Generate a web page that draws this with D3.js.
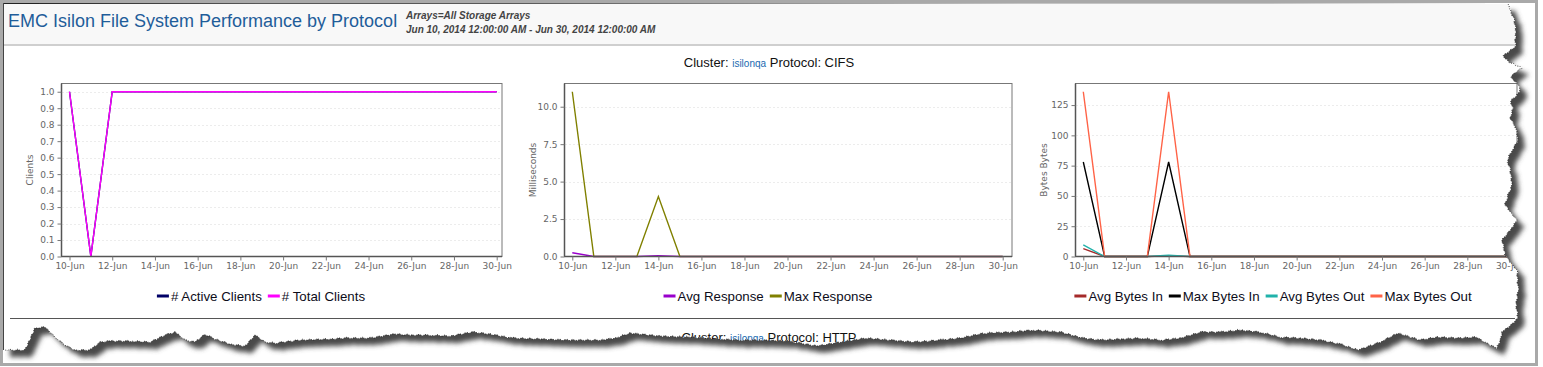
<!DOCTYPE html>
<html><head><meta charset="utf-8">
<script src="https://cdn.jsdelivr.net/npm/d3@7"></script>
<style>
html,body{margin:0;padding:0;background:#fff;}
svg{display:block;}
</style></head>
<body>
<svg id="c" width="1543" height="367"></svg>
<script>
// ---------------- DATA ----------------
const dates = ["2014-06-10","2014-06-11","2014-06-12","2014-06-13","2014-06-14","2014-06-15","2014-06-16",
  "2014-06-17","2014-06-18","2014-06-19","2014-06-20","2014-06-21","2014-06-22","2014-06-23","2014-06-24",
  "2014-06-25","2014-06-26","2014-06-27","2014-06-28","2014-06-29","2014-06-30"];
const xTickLabels = ["10-Jun","12-Jun","14-Jun","16-Jun","18-Jun","20-Jun","22-Jun","24-Jun","26-Jun","28-Jun","30-Jun"];

const activeClients = [1,0,1,1,1,1,1,1,1,1,1,1,1,1,1,1,1,1,1,1,1];
const totalClients  = [1,0,1,1,1,1,1,1,1,1,1,1,1,1,1,1,1,1,1,1,1];

const avgResponse = [0.25,0,0,0,0.05,0,0,0,0,0,0,0,0,0,0,0,0,0,0,0,0];
const maxResponse = [11,0,0,0,4,0,0,0,0,0,0,0,0,0,0,0,0,0,0,0,0];

const avgBytesIn  = [6.5,0,0,0,0.5,0,0,0,0,0,0,0,0,0,0,0,0,0,0,0,0];
const maxBytesIn  = [78,0,0,0,78,0,0,0,0,0,0,0,0,0,0,0,0,0,0,0,0];
const avgBytesOut = [9.5,0,0,0,1,0,0,0,0,0,0,0,0,0,0,0,0,0,0,0,0];
const maxBytesOut = [136,0,0,0,136,0,0,0,0,0,0,0,0,0,0,0,0,0,0,0,0];

const clientTicks = [0,0.1,0.2,0.3,0.4,0.5,0.6,0.7,0.8,0.9,1.0];
const msTicks = [0,2.5,5,7.5,10];
const bytesTicks = [0,25,50,75,100,125];

// ---------------- LAYOUT ----------------
const W = 1543, H = 367;
const svg = d3.select("#c");
const parse = d3.timeParse("%Y-%m-%d");
const dayDates = dates.map(parse);
const tickDates = ["2014-06-10","2014-06-12","2014-06-14","2014-06-16","2014-06-18","2014-06-20",
  "2014-06-22","2014-06-24","2014-06-26","2014-06-28","2014-06-30"].map(parse);

// torn paper edge (decoration)
const rightEdge = [[1508,4],[1510,10],[1514,20],[1516,32],[1515,40],[1516,46],[1503,56],[1509,62],[1522,68],
 [1514,73],[1511,78],[1518,84],[1520,90],[1516,96],[1510,101],[1513,108],[1510,118],[1516,128],[1518,140],
 [1512,150],[1507,160],[1510,170],[1512,185],[1508,195],[1505,205],[1510,212],[1517,220],[1510,230],
 [1502,240],[1505,255],[1510,262],[1517,270],[1518,290],[1516,305],[1518,318],[1512,324],[1502,332],
 [1500,340],[1497,348]];
const bottomEdge = [[1490,345],[1476,337],[1460,338],[1437,337],[1420,340],[1398,333],[1380,342],[1358,350],
 [1340,344],[1320,340],[1300,338],[1280,337],[1260,332],[1240,330],[1220,332],[1201,332],[1180,338],
 [1161,340],[1140,338],[1120,339],[1100,340],[1083,338],[1060,332],[1033,330],[1010,332],[984,333],
 [960,338],[940,340],[915,342],[890,340],[866,338],[840,342],[817,346],[800,343],[787,341],[760,340],
 [740,340],[720,339],[689,337],[660,336],[630,333],[615,338],[600,340],[570,340],[540,339],[512,338],
 [490,334],[472,332],[450,336],[430,335],[410,335],[394,334],[370,338],[345,338],[330,339],[300,340],
 [275,343],[265,342],[255,335],[245,346],[230,344],[215,339],[205,334],[195,342],[185,340],[175,332],
 [165,335],[150,342],[130,341],[110,341],[100,342],[90,350],[75,350],[65,345],[55,337],[45,327],
 [35,328],[25,350],[5,350]];

function roughen(pts){
  const out=[];
  for(let i=0;i<pts.length-1;i++){
    const [x0,y0]=pts[i],[x1,y1]=pts[i+1];
    const n=Math.max(1,Math.round(Math.hypot(x1-x0,y1-y0)/2.5));
    for(let k=0;k<n;k++){
      const t=k/n; const x=x0+(x1-x0)*t, yy=y0+(y1-y0)*t;
      const j=Math.sin(i*7.3+k*2.1)*0.8;
      const vert = Math.abs(x1-x0)<Math.abs(y1-y0);
      out.push([x+(vert?j:0), yy+(vert?0:j)]);
    }
  }
  out.push(pts[pts.length-1]);
  return out;
}
const tornPts = roughen(rightEdge.concat(bottomEdge));
const paperPts = [[3,3]].concat(tornPts).concat([[3,350]]);
const paperPath = "M" + paperPts.map(p=>p.join(",")).join("L") + "Z";

const defs = svg.append("defs");
const f = defs.append("filter").attr("id","sh").attr("x","-5%").attr("y","-5%").attr("width","110%").attr("height","120%");
f.append("feDropShadow").attr("dx",7).attr("dy",7).attr("stdDeviation",2.6).attr("flood-color","#4a4a4a").attr("flood-opacity",1);
defs.append("clipPath").attr("id","paperClip").append("path").attr("d",paperPath);

svg.append("rect").attr("width",W).attr("height",H).attr("fill","#fff");
// outer frame
svg.append("rect").attr("x",1.5).attr("y",1.5).attr("width",1535).attr("height",363)
  .attr("fill","none").attr("stroke","#a9a9a9").attr("stroke-width",3);

svg.append("path").attr("d",paperPath).attr("fill","#fff").attr("filter","url(#sh)");

const g = svg.append("g").attr("clip-path","url(#paperClip)");

// header band
g.append("rect").attr("x",3).attr("y",3).attr("width",1530).attr("height",41).attr("fill","#f8f8f8");
g.append("rect").attr("x",3).attr("y",44).attr("width",1530).attr("height",2).attr("fill","#cfcfcf");
g.append("line").attr("x1",3).attr("x2",1530).attr("y1",3.5).attr("y2",3.5).attr("stroke","#222");
g.append("line").attr("x1",3.5).attr("x2",3.5).attr("y1",3).attr("y2",360).attr("stroke","#444");

g.append("text").attr("x",8).attr("y",27).attr("font-family","Arial, 'Liberation Sans', sans-serif")
  .attr("font-size",18).attr("fill","#1f5d9a").text("EMC Isilon File System Performance by Protocol");
g.append("text").attr("x",406).attr("y",19).attr("font-family","Arial, 'Liberation Sans', sans-serif")
  .attr("font-size",10).attr("font-style","italic").attr("font-weight","bold").attr("fill","#444")
  .text("Arrays=All Storage Arrays");
g.append("text").attr("x",406).attr("y",33).attr("font-family","Arial, 'Liberation Sans', sans-serif")
  .attr("font-size",10).attr("font-style","italic").attr("font-weight","bold").attr("fill","#444")
  .text("Jun 10, 2014 12:00:00 AM - Jun 30, 2014 12:00:00 AM");

function clusterTitle(yPos, proto){
  const t = g.append("text").attr("x",769).attr("y",yPos).attr("text-anchor","middle")
    .attr("font-family","Arial, 'Liberation Sans', sans-serif").attr("font-size",13).attr("fill","#111");
  t.append("tspan").text("Cluster: ");
  t.append("tspan").attr("font-size",10).attr("fill","#1a6ab0").text("isilonqa");
  t.append("tspan").text(" Protocol: " + proto);
}
clusterTitle(67, "CIFS");
clusterTitle(342, "HTTP");

g.append("line").attr("x1",10).attr("x2",1515).attr("y1",318.5).attr("y2",318.5).attr("stroke","#555");

// ---------------- CHARTS ----------------
const charts = [
  {left:61.5, right:502, pl:8, pr:5.3, label:"Clients", ticks:clientTicks, fmt:d3.format(".1f"), max:1, lcx:261,
   series:[{name:"# Active Clients",values:activeClients,color:"#000066"},
           {name:"# Total Clients",values:totalClients,color:"#ff00ff"}]},
  {left:564.5, right:1012, pl:7.8, pr:9.3, label:"Milliseconds", ticks:msTicks, fmt:d3.format(".1f"), max:11, lcx:768,
   series:[{name:"Avg Response",values:avgResponse,color:"#9900cc"},
           {name:"Max Response",values:maxResponse,color:"#808000"}]},
  {left:1075.5, right:1517, pl:7.8, pr:7, label:"Bytes Bytes", ticks:bytesTicks, fmt:d3.format("d"), max:136, lcx:1273,
   series:[{name:"Avg Bytes In",values:avgBytesIn,color:"#a52a2a"},
           {name:"Max Bytes In",values:maxBytesIn,color:"#000000"},
           {name:"Avg Bytes Out",values:avgBytesOut,color:"#20b2aa"},
           {name:"Max Bytes Out",values:maxBytesOut,color:"#ff6347"}]}
];
const plotTop = 83.5, plotBottom = 256.5;
const tickFont = "'DejaVu Sans', Verdana, sans-serif";

charts.forEach(c=>{
  const x = d3.scaleTime().domain([dayDates[0], dayDates[dayDates.length-1]]).range([c.left+c.pl, c.right-c.pr]);
  const y = d3.scaleLinear().domain([0, c.max*1.05]).range([plotBottom, plotTop]);
  const cg = g.append("g");
  cg.append("rect").attr("x",c.left).attr("y",plotTop).attr("width",c.right-c.left).attr("height",plotBottom-plotTop)
    .attr("fill","#fff").attr("stroke","#777");
  cg.selectAll(".grid").data(c.ticks.filter(v=>v>0)).join("line")
    .attr("x1",c.left+1).attr("x2",c.right-1)
    .attr("y1",d=>Math.round(y(d))+0.5).attr("y2",d=>Math.round(y(d))+0.5)
    .attr("stroke","#d9d9d9").attr("stroke-dasharray","1,3");
  c.series.forEach(s=>{
    const line = d3.line().x((d,i)=>x(dayDates[i])).y(d=>y(d));
    cg.append("path").datum(s.values).attr("d",line).attr("fill","none")
      .attr("stroke",s.color).attr("stroke-width",1.4).attr("stroke-linejoin","miter");
  });
  const ya = d3.axisLeft(y).tickValues(c.ticks).tickFormat(c.fmt).tickSize(4).tickPadding(3);
  const yg = cg.append("g").attr("transform",`translate(${c.left},0)`).call(ya);
  const xa = d3.axisBottom(x).tickValues(tickDates).tickFormat((d,i)=>xTickLabels[i]).tickSize(4).tickPadding(2);
  const xg = cg.append("g").attr("transform",`translate(0,${plotBottom})`).call(xa);
  [yg,xg].forEach(a=>{
    a.select(".domain").attr("stroke","#555").attr("stroke-width",1.5);
    a.selectAll(".tick line").attr("stroke","#777");
    a.selectAll(".tick text").attr("fill","#666").attr("font-family",tickFont).attr("font-size",9);
  });
  xg.select(".domain").attr("d",`M${c.left},0H${c.right}`);
  yg.select(".domain").attr("d",`M0,${plotTop}V${plotBottom}`);
  cg.append("text").attr("transform",`translate(${c.left-29},${(plotTop+plotBottom)/2}) rotate(-90)`)
    .attr("text-anchor","middle").attr("font-family",tickFont).attr("font-size",9).attr("fill","#666")
    .text(c.label);

  const lg = cg.append("g");
  let cx = 0;
  c.series.forEach(s=>{
    const it = lg.append("g").attr("transform",`translate(${cx},0)`);
    it.append("rect").attr("x",0).attr("y",-1.5).attr("width",12).attr("height",3).attr("fill",s.color);
    const t = it.append("text").attr("x",14).attr("y",4.5).attr("font-family","Arial, 'Liberation Sans', sans-serif")
      .attr("font-size",13.3).attr("fill","#0d0d1a").text(s.name);
    cx += 14 + t.node().getComputedTextLength() + 6;
  });
  const lw = cx - 6;
  lg.attr("transform",`translate(${c.lcx - lw/2},296)`);
});

svg.append("path").attr("d","M"+tornPts.map(p=>p.join(",")).join("L"))
  .attr("fill","none").attr("stroke","#111").attr("stroke-width",0.8).attr("stroke-dasharray","1,1.5");
</script>
</body></html>
